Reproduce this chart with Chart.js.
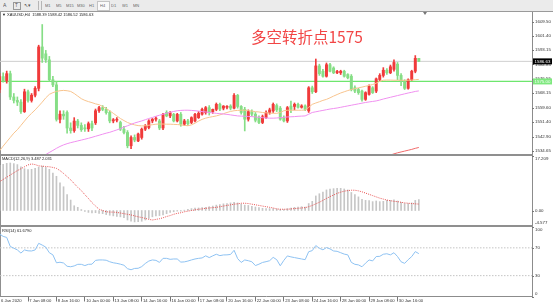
<!DOCTYPE html>
<html><head><meta charset="utf-8">
<script src="https://cdn.jsdelivr.net/npm/chart.js@4.4.1/dist/chart.umd.min.js"></script>
<style>
html,body{margin:0;padding:0;background:#fff;width:553px;height:307px;overflow:hidden;font-family:"Liberation Sans",Arial,sans-serif;}
#wrap{position:relative;width:553px;height:307px;overflow:hidden;}
canvas{position:absolute;left:0;}
.abs{position:absolute;}
.tiny{position:absolute;font-size:8px;line-height:8px;white-space:nowrap;color:#222;transform:scale(0.5);transform-origin:left top;}
.tb{left:0;top:0;width:553px;height:11px;background:#ebebeb;}
.sep{position:absolute;background:#8f8f8f;}
</style></head>
<body><div id="wrap">
<div class="abs tb"></div>
<div class="tiny" style="left:3px;top:3px;color:#555;font-size:10px;">A</div>
<div class="abs" style="left:13px;top:2px;width:6px;height:6px;border:1px solid #999;"></div>
<div class="tiny" style="left:14.5px;top:3px;color:#555;font-size:9px;">T</div>
<div class="tiny" style="left:24px;top:3px;color:#555;font-size:9px;">↖▾</div>
<div class="abs" style="left:38px;top:1px;width:1px;height:9px;background:#b5b5b5;"></div>
<div class="abs" style="left:41px;top:1px;width:1px;height:9px;background:#b5b5b5;"></div>
<div class="abs" style="left:97px;top:1px;width:11px;height:8px;background:#fafafa;border:1px solid #c4c4c4;"></div>
<div class="tiny" style="left:45px;top:4px;color:#666;">M1</div>
<div class="tiny" style="left:55.5px;top:4px;color:#666;">M5</div>
<div class="tiny" style="left:65.5px;top:4px;color:#666;">M15</div>
<div class="tiny" style="left:76.5px;top:4px;color:#666;">M30</div>
<div class="tiny" style="left:88.5px;top:4px;color:#666;">H1</div>
<div class="tiny" style="left:99.5px;top:4px;color:#666;">H4</div>
<div class="tiny" style="left:111px;top:4px;color:#666;">D1</div>
<div class="tiny" style="left:121.5px;top:4px;color:#666;">W1</div>
<div class="tiny" style="left:132.5px;top:4px;color:#666;">MN</div>
<div class="sep" style="left:0;top:11px;width:553px;height:1px;background:#9a9a9a;"></div>
<div class="sep" style="left:0;top:12px;width:1px;height:285px;"></div>
<div class="sep" style="left:0;top:154px;width:533px;height:2px;"></div>
<div class="sep" style="left:0;top:225px;width:533px;height:2px;"></div>
<canvas id="main" width="553" height="142" style="top:12px;"></canvas>
<canvas id="macd" width="553" height="69" style="top:156px;"></canvas>
<canvas id="rsi" width="553" height="80" style="top:227px;"></canvas>
<div class="abs" style="left:423px;top:12px;width:0;height:0;border-left:2px solid transparent;border-right:2px solid transparent;border-top:3px solid #777;"></div>
<div class="tiny" style="left:2px;top:13px;">▼ XAUUSD,H4&nbsp; 1588.39 1588.42 1586.52 1586.63</div>
<div class="tiny" style="left:2px;top:157px;">MACD(12,26,9) 3.487 2.031</div>
<div class="tiny" style="left:2px;top:229px;">RSI(14) 61.6790</div>
<div class="abs" style="left:251px;top:27px;font-family:'Noto Sans CJK SC',sans-serif;font-size:15.5px;line-height:18px;color:#f24545;white-space:nowrap;">多空转折点1575</div>
</div>
<script>
// ---------- DATA ----------
const opens  = [1570.3,1577.8,1575.5,1579.5,1566.0,1564.0,1563.0,1557.5,1569.0,1564.0,1567.0,1571.0,1595.0,1591.0,1587.5,1576.0,1573.0,1553.0,1556.0,1557.0,1548.0,1546.5,1552.0,1549.5,1548.0,1547.5,1550.5,1551.0,1558.0,1559.8,1558.8,1557.0,1552.1,1552.5,1551.2,1547.3,1545.4,1537.7,1542.5,1540.5,1542.5,1547.3,1548.3,1552.1,1553.1,1552.1,1548.0,1557.0,1555.0,1555.9,1552.1,1555.9,1550.2,1552.1,1551.2,1552.1,1554.0,1556.0,1556.9,1559.8,1557.5,1558.8,1561.7,1559.5,1560.0,1560.7,1559.5,1566.9,1560.5,1558.8,1553.1,1557.5,1556.0,1554.0,1551.2,1554.0,1557.0,1557.9,1561.0,1559.5,1554.0,1552.1,1560.7,1560.5,1561.7,1560.0,1560.8,1557.9,1571.3,1569.0,1584.0,1580.9,1578.0,1584.7,1582.8,1580.0,1580.0,1580.9,1579.0,1578.0,1571.3,1570.3,1569.4,1564.6,1567.5,1571.3,1569.4,1576.1,1578.5,1581.5,1580.0,1582.0,1585.0,1578.5,1575.2,1571.0,1576.0,1580.9,1588.39];
const highs  = [1579.5,1580.0,1581.0,1581.0,1568.0,1566.0,1564.5,1570.5,1570.0,1568.0,1572.0,1596.0,1608.0,1593.0,1589.5,1578.0,1575.0,1558.0,1558.0,1558.0,1551.0,1554.0,1553.0,1551.0,1550.0,1551.5,1552.0,1559.0,1560.5,1561.0,1560.0,1558.0,1553.5,1554.0,1552.0,1549.0,1546.5,1543.5,1544.0,1545.0,1548.0,1550.0,1552.8,1553.5,1554.5,1553.0,1556.5,1558.0,1557.5,1556.5,1556.5,1557.0,1553.0,1553.0,1554.5,1556.5,1557.5,1559.5,1560.5,1561.0,1559.0,1562.5,1562.5,1561.0,1561.0,1561.5,1568.0,1567.5,1561.0,1560.0,1558.5,1558.5,1557.0,1555.0,1555.5,1558.0,1559.5,1562.5,1562.0,1560.5,1555.0,1560.5,1563.6,1562.5,1562.5,1561.5,1561.5,1572.0,1572.3,1588.0,1585.0,1582.0,1585.7,1585.5,1583.5,1581.5,1581.5,1581.5,1579.5,1579.0,1572.5,1571.0,1570.0,1569.0,1573.0,1572.0,1577.0,1579.5,1583.0,1582.5,1584.5,1587.5,1586.0,1579.5,1576.0,1576.5,1581.5,1590.0,1588.42];
const lows   = [1568.5,1574.5,1574.0,1564.5,1562.5,1561.0,1556.5,1557.0,1563.0,1563.0,1566.0,1569.5,1586.0,1586.0,1575.0,1572.0,1552.0,1551.0,1553.0,1545.0,1545.0,1545.5,1548.0,1546.0,1546.0,1546.0,1546.5,1550.0,1557.0,1558.0,1556.0,1551.0,1551.0,1551.5,1546.5,1544.5,1536.5,1536.0,1540.0,1540.0,1541.5,1546.5,1547.5,1551.0,1552.0,1547.0,1547.0,1554.5,1554.0,1551.5,1551.5,1549.0,1549.5,1549.5,1550.5,1551.5,1553.5,1555.5,1556.0,1555.5,1556.5,1558.0,1558.0,1558.5,1559.0,1558.5,1559.0,1559.5,1556.0,1546.3,1552.0,1555.0,1551.5,1550.5,1550.5,1553.5,1556.0,1557.0,1557.5,1552.5,1551.5,1551.2,1556.9,1558.5,1559.5,1559.5,1558.0,1557.0,1568.0,1568.5,1578.5,1577.5,1577.5,1580.5,1579.5,1579.5,1579.0,1577.5,1576.5,1569.5,1568.5,1567.5,1563.5,1564.0,1567.0,1568.0,1568.5,1575.5,1577.5,1579.0,1579.5,1581.0,1576.0,1572.5,1570.3,1570.5,1575.5,1580.0,1586.52];
const closes = [1577.8,1575.5,1579.5,1566.0,1564.0,1563.0,1557.5,1569.0,1564.0,1567.0,1571.0,1595.0,1588.5,1587.5,1576.0,1573.0,1553.0,1556.0,1555.0,1548.0,1546.5,1552.0,1549.5,1547.0,1547.5,1550.5,1548.0,1558.0,1559.8,1558.8,1556.9,1552.1,1552.8,1553.0,1547.3,1545.4,1537.7,1542.5,1541.0,1544.5,1547.3,1549.2,1552.1,1553.1,1553.6,1548.0,1555.9,1555.0,1556.9,1552.1,1555.9,1550.2,1552.1,1550.5,1554.0,1555.9,1556.5,1558.8,1559.8,1556.9,1558.8,1561.7,1559.0,1560.7,1560.5,1559.5,1566.9,1560.5,1557.0,1553.1,1557.5,1556.0,1552.5,1551.2,1554.5,1557.0,1558.5,1561.7,1558.5,1553.1,1552.1,1559.8,1558.8,1561.7,1560.0,1560.8,1558.8,1571.3,1569.0,1584.0,1579.5,1578.0,1584.7,1580.9,1580.0,1580.9,1580.9,1578.0,1577.1,1570.3,1569.4,1568.5,1564.6,1568.5,1572.2,1568.5,1576.5,1578.5,1581.5,1580.0,1583.5,1586.0,1578.5,1575.2,1571.0,1576.0,1580.9,1588.4,1586.63];

const maOrange = [1534.8,1537.5,1540.0,1542.5,1545.0,1547.0,1549.5,1552.0,1554.5,1556.5,1558.5,1560.7,1563.0,1565.5,1567.5,1568.5,1569.2,1569.6,1569.8,1569.6,1569.2,1568.0,1566.5,1565.0,1564.0,1563.3,1562.7,1562.0,1561.5,1560.5,1559.3,1558.0,1556.5,1555.0,1553.5,1552.3,1551.2,1550.4,1549.8,1549.4,1549.2,1549.3,1549.6,1549.9,1550.2,1550.3,1550.3,1550.2,1550.2,1550.1,1550.0,1549.8,1549.5,1549.3,1549.8,1550.8,1552.0,1553.0,1553.7,1554.2,1554.6,1555.0,1555.6,1556.3,1557.0,1557.6,1558.0,1558.2,1558.3,1558.3,1558.1,1557.8,1557.5,1557.3,1557.0,1556.8,1556.6,1556.5,1556.5,1557.0,1558.0,1558.3,1558.3,1558.3,1558.3,1558.3,1558.4,1560.0,1561.7,1562.5,1563.2,1564.0,1564.6,1565.5,1566.5,1567.4,1568.3,1569.0,1569.7,1570.3,1570.8,1571.3,1571.7,1572.2,1572.7,1573.2,1574.0,1575.0,1575.7,1575.8,1575.8,1575.7,1575.7,1575.7,1575.6,1575.7,1575.8,1576.0,1576.2];
const maPinkStart = 12;
const maPink = [1531.0,1532.6,1533.8,1535.0,1536.2,1537.3,1538.2,1538.9,1539.5,1540.0,1540.5,1541.0,1541.5,1542.0,1542.6,1543.2,1543.8,1544.4,1545.0,1545.5,1546.2,1546.9,1547.6,1548.5,1549.3,1550.1,1550.9,1551.5,1552.1,1552.8,1553.5,1554.1,1554.8,1555.4,1556.0,1556.6,1557.1,1557.6,1558.0,1558.2,1558.3,1558.3,1558.2,1558.0,1557.8,1557.5,1557.3,1557.0,1556.8,1556.5,1556.3,1556.1,1555.9,1555.6,1555.3,1555.0,1554.9,1554.8,1554.7,1554.6,1554.4,1554.2,1554.0,1553.8,1553.7,1553.7,1553.8,1554.0,1554.2,1554.4,1554.5,1554.6,1554.8,1554.9,1555.0,1556.0,1557.0,1557.4,1557.8,1558.2,1558.6,1559.0,1559.3,1559.6,1560.0,1560.4,1560.8,1561.2,1561.6,1562.0,1562.4,1562.8,1563.1,1563.4,1563.7,1564.2,1564.8,1565.3,1565.8,1566.3,1566.8,1567.3,1567.8,1568.3,1568.7,1569.2,1569.5];
const maRedStart = 110;
const maRed = [1532.3,1533.0,1533.6,1534.1,1534.6,1535.1,1535.6,1536.2,1536.7];

const macdHist = [14.3,14.6,14.9,15.0,14.8,14.5,13.8,13.2,12.9,13.0,13.3,13.7,14.0,13.6,13.0,11.8,10.8,8.7,7.5,5.0,3.3,1.5,1.0,0.3,-0.3,-0.6,-0.8,-0.7,-0.9,-1.0,-1.3,-1.5,-1.7,-1.9,-2.0,-2.3,-3.0,-3.4,-3.6,-3.5,-3.4,-3.0,-2.5,-2.0,-1.7,-1.6,-1.4,-1.0,-0.6,-0.4,-0.2,-0.2,0.1,0.4,0.6,0.8,0.8,0.9,1.0,1.2,1.4,1.7,1.9,2.1,2.2,2.4,2.6,2.4,2.0,1.7,1.6,1.3,1.1,0.9,0.7,0.6,0.6,0.6,0.5,0.4,0.3,0.6,0.8,1.0,1.1,1.2,1.1,2.2,2.9,4.6,5.3,5.8,6.5,6.8,6.9,7.0,7.0,6.8,6.5,5.7,5.0,4.3,3.5,3.2,3.1,2.8,3.0,2.8,2.9,3.2,3.2,3.4,3.0,2.6,2.2,2.2,2.4,3.2,3.487];
const macdSignal = [9.1,9.8,10.5,11.2,11.9,12.6,13.2,13.8,14.4,14.7,14.5,14.1,14.0,13.9,13.8,13.6,13.3,12.6,11.7,10.7,9.7,8.5,7.3,6.3,5.0,3.8,2.5,1.4,0.4,0.0,-0.4,-0.5,-0.5,-0.6,-0.8,-1.0,-1.2,-1.4,-1.7,-2.0,-2.2,-2.5,-2.8,-3.0,-2.8,-2.6,-2.3,-1.9,-1.6,-1.2,-0.9,-0.7,-0.4,-0.2,0.0,0.2,0.4,0.5,0.7,0.8,0.9,1.0,1.2,1.4,1.6,1.8,2.0,2.1,2.3,2.3,2.2,2.0,1.8,1.6,1.4,1.2,1.0,0.8,0.5,0.4,0.4,0.4,0.5,0.6,0.7,0.8,0.9,1.2,1.6,2.1,2.6,3.2,3.8,4.4,4.9,5.4,5.8,6.1,6.3,6.4,6.4,6.2,5.9,5.5,5.1,4.7,4.3,3.9,3.6,3.3,3.1,2.9,2.8,2.6,2.4,2.3,2.2,2.1,2.031];

const rsiValues = [89.8,86.5,85.0,72.0,69.5,67.0,62.5,67.0,65.7,65.5,67.0,76.5,74.0,71.0,63.0,59.9,48.5,49.3,48.2,43.5,42.8,44.0,46.3,46.3,44.5,46.3,46.5,52.0,52.6,52.6,52.2,50.0,48.5,47.7,46.5,45.0,40.0,38.5,40.4,40.6,43.0,47.5,51.0,52.6,52.0,49.1,54.9,54.9,53.5,54.0,54.0,49.5,49.8,51.0,52.6,54.0,54.9,55.5,58.5,56.0,58.5,60.8,58.8,59.8,59.9,60.5,66.5,54.5,49.0,52.6,51.5,50.0,44.5,46.5,49.0,50.1,51.5,56.3,53.0,44.2,52.0,58.4,57.0,56.0,55.0,54.0,53.0,64.5,66.0,73.3,69.4,67.2,70.4,68.5,65.5,65.0,63.0,61.0,59.9,49.1,46.3,45.5,42.8,48.0,52.6,51.2,57.5,57.8,60.8,61.5,59.9,63.0,57.5,50.0,47.7,53.0,57.5,64.6,61.679];

const priceTicks = [1609.50,1601.40,1593.15,1584.85,1576.55,1568.15,1559.60,1551.40,1542.90,1534.65];
const macdTicks = [17.209,0.00,-4.577];
const macdTickLabels = ['17.209','0.00','-4.577'];
const rsiTicks = [100,70,30,0];
const rsiLevels = [70,30];
const bidPrice = 1586.63;
const pivotLevel = 1575.00;
const xTickIdx = [0,8,16,24,32,40,48,56,64,72,80,88,96,104,112];
const xTickLabels = ['6 Jan 2020','7 Jan 08:00','8 Jan 16:00','10 Jan 00:00','13 Jan 08:00','14 Jan 16:00','16 Jan 00:00','17 Jan 08:00','20 Jan 16:00','22 Jan 00:00','23 Jan 08:00','24 Jan 16:00','28 Jan 00:00','29 Jan 08:00','30 Jan 16:00'];

// ---------- STYLE / LAYOUT ----------
const X_MIN = 0.113, X_MAX = 149.85;
const UP = '#f03a3a', DOWN = '#86de86';
const FONT = '"Liberation Sans", Arial, sans-serif';
const idx = closes.map((_, i) => i);
const cColor = idx.map(i => closes[i] >= opens[i] ? UP : DOWN);

const yLab = {
  id: 'ylab',
  afterDraw(chart, args, o) {
    if (!o || !o.values) return;
    const s = chart.scales.y, ctx = chart.ctx;
    ctx.save();
    ctx.font = '4.4px ' + FONT;
    ctx.textBaseline = 'middle'; ctx.textAlign = 'left';
    ctx.strokeStyle = '#777'; ctx.lineWidth = 1;
    o.values.forEach((v, k) => {
      const py = s.getPixelForValue(v);
      const ty = Math.min(Math.max(py, s.top + 2.6), s.bottom - 2.6);
      ctx.beginPath(); ctx.moveTo(s.left, Math.round(py) + 0.5); ctx.lineTo(s.left + 2, Math.round(py) + 0.5); ctx.stroke();
      ctx.fillStyle = '#333';
      ctx.fillText(o.labels[k], s.left + 3, ty);
    });
    (o.boxes || []).forEach(b => {
      const py = s.getPixelForValue(b.value);
      ctx.fillStyle = b.bg; ctx.fillRect(s.left + 1, py - 3, 19, 6);
      ctx.fillStyle = b.fg; ctx.fillText(b.text, s.left + 2.5, py + 0.2);
    });
    ctx.restore();
  }
};
Chart.register(yLab);

function opts(yMin, yMax, lab, xDisplay) {
  return {
    responsive: false, animation: false, devicePixelRatio: 1,
    layout: { padding: 0 },
    plugins: { legend: { display: false }, tooltip: { enabled: false }, ylab: lab },
    scales: {
      x: xDisplay ? {
        type: 'linear', min: X_MIN, max: X_MAX, position: 'bottom', offset: false,
        afterFit: s => { s.height = 10.5; },
        afterBuildTicks: s => { s.ticks = xTickIdx.map(v => ({ value: v })); },
        ticks: { autoSkip: false, maxRotation: 0, minRotation: 0, align: 'start', padding: -3.5, labelOffset: 1.3,
                 color: '#333', font: { size: 4.2, family: FONT },
                 callback: (v, i) => xTickLabels[i] },
        grid: { display: true, drawOnChartArea: false, drawTicks: true, tickLength: 5, color: '#777', offset: false },
        border: { display: true, color: '#8c8c8c', width: 1 }
      } : { type: 'linear', min: X_MIN, max: X_MAX, display: false, offset: false },
      y: {
        position: 'right', min: yMin, max: yMax,
        afterFit: s => { s.width = 21; },
        ticks: { display: false }, grid: { display: false },
        border: { display: true, color: '#8c8c8c', width: 1 }
      }
    }
  };
}
const flat = (v) => [{ x: X_MIN, y: v }, { x: X_MAX, y: v }];
const lineDs = (data, color, w, order, dash) => ({ type: 'line', data, borderColor: color, borderWidth: w, pointRadius: 0, tension: 0, order, borderDash: dash || [] });

// main price chart
new Chart(document.getElementById('main'), {
  type: 'bar',
  data: { datasets: [
    lineDs(flat(bidPrice), '#cfcfcf', 1, 9),
    lineDs(flat(pivotLevel), '#6ee66e', 1.3, 8),
    { type: 'bar', data: idx.map(i => ({ x: i, y: [lows[i], highs[i]] })), backgroundColor: cColor, barThickness: 1, grouped: false, order: 7 },
    { type: 'bar', data: idx.map(i => ({ x: i, y: [opens[i], closes[i]] })), backgroundColor: cColor, barThickness: 2.3, grouped: false, minBarLength: 1, order: 6 },
    lineDs(maOrange.map((v, i) => ({ x: i, y: v })), '#f8c48e', 1, 3),
    lineDs(maPink.map((v, k) => ({ x: k + maPinkStart, y: v })), '#f090f0', 1, 2),
    lineDs(maRed.map((v, k) => ({ x: k + maRedStart, y: v })), '#f06a6a', 1, 1)
  ]},
  options: opts(1532.92, 1615.26, {
    values: priceTicks, labels: priceTicks.map(v => v.toFixed(2)),
    boxes: [ { value: bidPrice, text: bidPrice.toFixed(2), bg: '#000', fg: '#fff' },
             { value: pivotLevel, text: pivotLevel.toFixed(2), bg: '#7ee87e', fg: '#f4fff4' } ]
  }, false)
});

// MACD
new Chart(document.getElementById('macd'), {
  type: 'bar',
  data: { datasets: [
    { type: 'bar', data: idx.map(i => ({ x: i, y: macdHist[i] })), backgroundColor: '#c6c6c6', barThickness: 1, order: 2 },
    lineDs(macdSignal.map((v, i) => ({ x: i, y: v })), '#e84c4c', 1, 1, [1, 1.2])
  ]},
  options: opts(-4.577, 17.209, { values: macdTicks, labels: macdTickLabels }, false)
});

// RSI
new Chart(document.getElementById('rsi'), {
  type: 'line',
  data: { datasets: [
    ...rsiLevels.map(l => lineDs(flat(l), '#c4c4c4', 1, 3, [1.5, 1.5])),
    lineDs(rsiValues.map((v, i) => ({ x: i, y: v })), '#8ec2f2', 1, 1)
  ]},
  options: opts(0, 100, { values: rsiTicks, labels: rsiTicks.map(String) }, true)
});
</script>
</body></html>
